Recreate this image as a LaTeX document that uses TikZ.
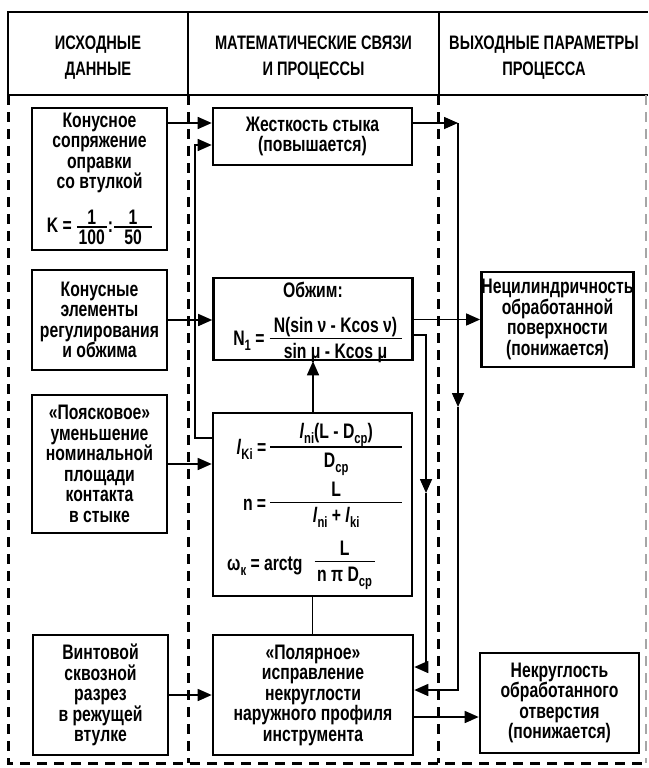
\documentclass[tikz,border=0pt]{standalone}
\usepackage{fontspec}
\setmainfont{Liberation Sans}[FakeStretch=0.75]
\usetikzlibrary{arrows.meta}
\newcommand\lowidx[1]{\raisebox{-0.45ex}{\fontsize{15}{15}\selectfont #1}}
\newcommand\frw[3]{$\vcenter{\offinterlineskip\halign{##\cr
  \vrule height 15pt depth 5pt width 0pt\hbox to #1{\hfil #2\hfil}\cr
  \noalign{\hrule height 1.8pt}
  \vrule height 19pt depth 6pt width 0pt\hbox to #1{\hfil #3\hfil}\cr}}$}
\newcommand\frt[3]{$\vcenter{\offinterlineskip\halign{##\cr
  \vrule height 14.5pt depth 1.5pt width 0pt\hbox to #1{\hfil #2\hfil}\cr
  \noalign{\hrule height 1.8pt}
  \vrule height 16.5pt depth 1pt width 0pt\hbox to #1{\hfil #3\hfil}\cr}}$}
\begin{document}
\begin{tikzpicture}[x=1pt,y=-1pt,
  font=\fontsize{21}{20.5}\selectfont\bfseries,
  bx/.style n args={2}{draw,line width=2.6pt,inner sep=0pt,align=center,minimum width=#1pt,minimum height=#2pt},
  arr/.style={line width=1.6pt,-{Triangle[length=14pt,width=12pt]}},
  ln/.style={line width=1.6pt},
  frame/.style={line width=3pt,dash pattern=on 10pt off 7pt},
  hdr/.style={align=center,inner sep=0pt,font=\fontsize{19.5}{26}\selectfont\bfseries}]
\useasboundingbox (0,0) rectangle (648,768);

% header
\draw[line width=2.6pt] (8,95) -- (8,12) -- (648,12);
\draw[line width=2.6pt] (8,95) -- (648,95);
\draw[line width=2.6pt] (188,12) -- (188,95);
\draw[line width=2.6pt] (439,12) -- (439,95);
\node[hdr] (h1) at (98,58) {ИСХОДНЫЕ\\ДАННЫЕ};
\node[hdr] (h2) at (313.5,58) {МАТЕМАТИЧЕСКИЕ СВЯЗИ\\И ПРОЦЕССЫ};
\node[hdr] (h3) at (544,58) {ВЫХОДНЫЕ ПАРАМЕТРЫ\\ПРОЦЕССА};

% dashed frame
\draw[frame] (8,95) -- (8,763) -- (648,763);
\draw[frame] (188,95) -- (188,763);
\draw[frame] (438,95) -- (438,763);
\draw[frame,draw=black!35,line width=1.5pt] (646,95) -- (646,763);

% input boxes
\node[bx={135}{142}] (b1) at (99.5,179) {Конусное\\сопряжение\\оправки\\со втулкой\\[16pt]K =\hspace{5pt}\frt{30pt}{1}{100}\hspace{1pt}:\hspace{1pt}\frt{38pt}{1}{50}};
\node[bx={135}{100}] (b2) at (99.5,320) {Конусные\\элементы\\регулирования\\и обжима};
\node[bx={135}{138}] (b3) at (99.5,464) {«Поясковое»\\уменьшение\\номинальной\\площади\\контакта\\в стыке};
\node[bx={135}{120}] (b4) at (100.5,695) {Винтовой\\сквозной\\разрез\\в режущей\\втулке};

% middle boxes
\node[bx={199}{57}] (zh) at (312.5,136.5) {Жесткость стыка\\(повышается)};
\node[bx={199}{82}] (ob) at (313,319) {};
\node[align=center,inner sep=0pt] (obt) at (313,323) {Обжим:\\[19pt]\makebox[40pt][r]{N\lowidx{1} =}\hspace{5pt}\frw{132pt}{N(sin ν - Kcos ν)}{sin μ - Kcos μ}};
\node[bx={199}{183}] (fm) at (312.5,504.5) {};
\node[anchor=west,inner sep=0pt] (f1) at (225,449) {\makebox[41pt][r]{\textit{l}\lowidx{Ki} =}\hspace{4pt}\frw{132pt}{\textit{l}\lowidx{ni}(L - D\lowidx{ср})}{D\lowidx{ср}}};
\node[anchor=west,inner sep=0pt] (f2) at (225,505) {\makebox[41pt][r]{n =}\hspace{4pt}\frw{132pt}{L}{\textit{l}\lowidx{ni} + \textit{l}\lowidx{ki}}};
\node[anchor=west,inner sep=0pt] (f3) at (227,565) {ω\lowidx{к} = arctg\hspace{12pt}\frw{60pt}{L}{n π D\lowidx{ср}}};
\node[bx={200}{120}] (pol) at (313,695) {«Полярное»\\исправление\\некруглости\\наружного профиля\\инструмента};

% output boxes
\node[bx={151}{95}] (r1) at (557.5,319.5) {Нецилиндричность\\обработанной\\поверхности\\(понижается)};
\node[bx={159}{100}] (r2) at (559.5,703) {Некруглость\\обработанного\\отверстия\\(понижается)};

% rails
\coordinate (y123) at (0,123);
\coordinate (y335) at (0,335);
\coordinate (y717) at (0,717);
\coordinate (la) at (195,438);
\coordinate (lb) at (195,145);
\coordinate (ra) at (458,123);
\coordinate (rb) at (458,407);
\coordinate (rc) at (458,690);
\coordinate (qa) at (426,335);
\coordinate (qb) at (426,493);
\coordinate (qc) at (426,667);

% connectors
\draw[arr] (b1.east |- y123) -- (zh.west |- y123);
\draw[arr] (fm.west |- la) -- (la) -- (lb) -- (zh.west |- lb);
\draw[arr] (zh.east |- ra) -- (ra);
\draw[arr] (ra) -- (rb);
\draw[arr] (rb) -- (rc) -- (pol.east |- rc);
\draw[arr] (b2.east) -- (ob.west |- b2.east);
\draw[arr] (ob.east |- r1.west) -- (r1.west);
\draw[arr] (ob.east |- qa) -- (qa) -- (qb);
\draw[arr] (qb) -- (qc) -- (pol.east |- qc);
\draw[arr] (fm.north -| ob.south) -- (ob.south);
\draw[arr] (b3.east) -- (fm.west |- b3.east);
\draw[ln] (fm.south) -- (pol.north -| fm.south);
\draw[arr] (b4.east) -- (pol.west |- b4.east);
\draw[arr] (pol.east |- y717) -- (r2.west |- y717);
\end{tikzpicture}
\end{document}
